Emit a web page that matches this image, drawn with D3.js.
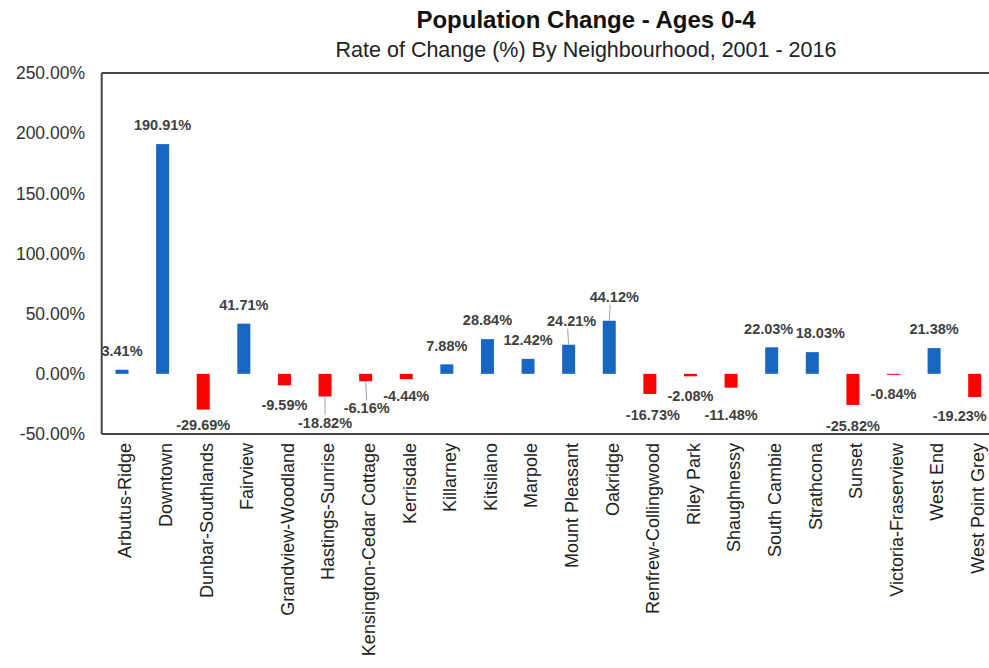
<!DOCTYPE html>
<html>
<head>
<meta charset="utf-8">
<script src="https://cdn.jsdelivr.net/npm/d3@7"></script>
<style>
  body { margin: 0; background: #fff; }
  svg { display: block; font-family: Arial, "Liberation Sans", sans-serif; }
</style>
</head>
<body>
<div id="chart"></div>
<script>
const neighbourhoods = ["Arbutus-Ridge", "Downtown", "Dunbar-Southlands", "Fairview", "Grandview-Woodland",
    "Hastings-Sunrise", "Kensington-Cedar Cottage", "Kerrisdale", "Killarney", "Kitsilano", "Marpole",
    "Mount Pleasant", "Oakridge", "Renfrew-Collingwood", "Riley Park", "Shaughnessy", "South Cambie",
    "Strathcona", "Sunset", "Victoria-Fraserview", "West End", "West Point Grey"];
const changePct = [3.41, 190.91, -29.69, 41.71, -9.59, -18.82, -6.16, -4.44, 7.88, 28.84, 12.42,
    24.21, 44.12, -16.73, -2.08, -11.48, 22.03, 18.03, -25.82, -0.84, 21.38, -19.23];
const yTicks = [-50, 0, 50, 100, 150, 200, 250];

// hand-placed label nudges (like the moved labels in the original)
const labelNudge = {
    "Mount Pleasant": [3, -5], "Oakridge": [5, -5], "South Cambie": [-3, 0], "Strathcona": [8, 0],
    "Dunbar-Southlands": [0, -4], "Hastings-Sunrise": [0, 7], "Kensington-Cedar Cottage": [1, 8],
    "Kerrisdale": [0, -2], "Renfrew-Collingwood": [3, 2], "Shaughnessy": [0, 8],
    "Sunset": [0, 2], "West Point Grey": [-15, 0]
};
const withLeader = ["Hastings-Sunrise", "Kensington-Cedar Cottage", "Mount Pleasant", "Oakridge"];

const W = 989, H = 668;
const plot = { left: 101.7, right: 995, top: 73, bottom: 434 };

// plain hyphen for negatives, as in the original
const pct = v => d3.format(".2f")(v).replace("\u2212", "-") + "%";

const svg = d3.select("#chart")
    .append("svg")
    .attr("width", W)
    .attr("height", H);

const x = d3.scaleBand()
    .domain(neighbourhoods)
    .range([plot.left, plot.right])
    .paddingInner(0.68)
    .paddingOuter(0.34);

const y = d3.scaleLinear()
    .domain([-50, 250])
    .range([plot.bottom, plot.top]);

const data = neighbourhoods.map((n, i) => ({ name: n, value: changePct[i] }));

// titles
svg.append("text")
    .attr("x", 586)
    .attr("y", 28)
    .attr("text-anchor", "middle")
    .style("font-size", "24px")
    .style("font-weight", "bold")
    .style("fill", "#111")
    .text("Population Change - Ages 0-4");

svg.append("text")
    .attr("x", 586)
    .attr("y", 57)
    .attr("text-anchor", "middle")
    .style("font-size", "21.5px")
    .style("fill", "#222")
    .text("Rate of Change (%) By Neighbourhood, 2001 - 2016");

// y axis labels (no tick marks)
svg.append("g")
    .selectAll("text")
    .data(yTicks)
    .join("text")
    .attr("x", 85)
    .attr("y", d => y(d))
    .attr("dy", "0.36em")
    .attr("text-anchor", "end")
    .style("font-size", "17.5px")
    .style("fill", "#333")
    .text(d => pct(d));

// bars
svg.append("g")
    .selectAll("rect")
    .data(data)
    .join("rect")
    .attr("x", d => x(d.name))
    .attr("y", d => y(Math.max(0, d.value)))
    .attr("width", x.bandwidth())
    .attr("height", d => Math.abs(y(d.value) - y(0)))
    .attr("fill", d => d.value >= 0 ? "#1766c2" : "#ff0000");

// frame
const frame = svg.append("g").style("stroke", "#444").style("stroke-width", 2).style("fill", "none");
frame.append("line").attr("x1", plot.left).attr("x2", W).attr("y1", plot.top).attr("y2", plot.top);
frame.append("line").attr("x1", plot.left).attr("x2", W).attr("y1", plot.bottom).attr("y2", plot.bottom);
frame.append("line").attr("x1", plot.left).attr("x2", plot.left).attr("y1", plot.top).attr("y2", plot.bottom);

// data labels
function labelPos(d) {
    const nudge = labelNudge[d.name] || [0, 0];
    const cx = x(d.name) + x.bandwidth() / 2 + nudge[0];
    const cy = d.value >= 0 ? y(d.value) - 19 + nudge[1] : y(d.value) + 19 + nudge[1];
    return [cx, cy];
}

svg.append("g")
    .selectAll("line")
    .data(data.filter(d => withLeader.includes(d.name)))
    .join("line")
    .attr("x1", d => x(d.name) + x.bandwidth() / 2)
    .attr("y1", d => y(d.value))
    .attr("x2", d => labelPos(d)[0] - (d.value >= 0 ? 4 : 0))
    .attr("y2", d => labelPos(d)[1] + (d.value >= 0 ? 8 : -8))
    .style("stroke", "#9aa4b4")
    .style("stroke-width", 1);

svg.append("g")
    .selectAll("text")
    .data(data)
    .join("text")
    .attr("x", d => labelPos(d)[0])
    .attr("y", d => labelPos(d)[1])
    .attr("dy", "0.36em")
    .attr("text-anchor", "middle")
    .style("font-size", "14.5px")
    .style("font-weight", "bold")
    .style("fill", "#404040")
    .text(d => pct(d.value));

// category labels, rotated
svg.append("g")
    .selectAll("text")
    .data(neighbourhoods)
    .join("text")
    .attr("transform", d => `translate(${x(d) + x.bandwidth() / 2 + 3}, 443) rotate(-90)`)
    .attr("dy", "0.35em")
    .attr("text-anchor", "end")
    .style("font-size", "18px")
    .style("fill", "#222")
    .text(d => d);
</script>
</body>
</html>
